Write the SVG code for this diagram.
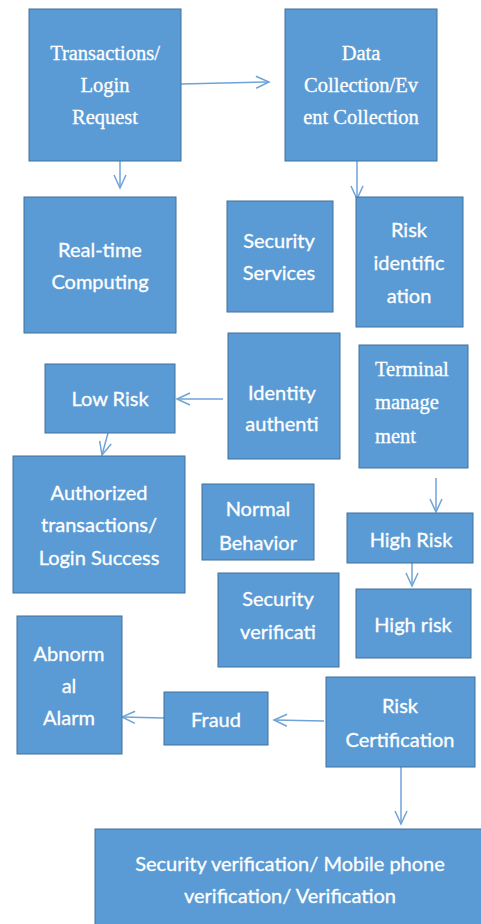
<svg xmlns="http://www.w3.org/2000/svg" width="481" height="924" viewBox="0 0 481 924">
<style>
.box{fill:#5B9BD5;stroke:#41719C;stroke-width:1}
.t{fill:#ffffff;stroke:#ffffff;stroke-width:0.3;font-family:Lato,"Open Sans","DejaVu Sans",sans-serif;font-size:20px;text-anchor:middle}
.s{fill:#ffffff;stroke:#ffffff;stroke-width:0.3;font-family:"Liberation Serif","Times New Roman",serif;font-size:20.5px;text-anchor:middle}
.c{fill:none;stroke:#6FA3D8;stroke-width:1.5}
</style>
<defs>
<marker id="arr" viewBox="0 0 14 12" refX="13" refY="6" markerWidth="14" markerHeight="12" markerUnits="userSpaceOnUse" orient="auto" overflow="visible">
<path d="M0,0 L13,6 L0,12" fill="none" stroke="#6FA3D8" stroke-width="1.5"/>
</marker>
</defs>
<rect width="481" height="924" fill="#ffffff"/>
<g id="connectors">
<path class="c" d="M181,84 L269,82" marker-end="url(#arr)"/>
<path class="c" d="M120,161 L120,188" marker-end="url(#arr)"/>
<path class="c" d="M357,161 L357,199" marker-end="url(#arr)"/>
<path class="c" d="M223,399 L177,399" marker-end="url(#arr)"/>
<path class="c" d="M108,433 L102,455" marker-end="url(#arr)"/>
<path class="c" d="M436,478 L436,512" marker-end="url(#arr)"/>
<path class="c" d="M412,563 L412,586" marker-end="url(#arr)"/>
<path class="c" d="M324,721 L274,720" marker-end="url(#arr)"/>
<path class="c" d="M164,718 L122,717" marker-end="url(#arr)"/>
<path class="c" d="M401,767 L401,824" marker-end="url(#arr)"/>
</g>
<g id="n-transactions">
<rect class="box" x="29" y="9" width="152" height="152"/>
<text class="s" x="105" y="60">Transactions/</text>
<text class="s" x="105" y="92">Login</text>
<text class="s" x="105" y="124">Request</text>
</g>
<g id="n-data">
<rect class="box" x="285" y="9" width="152" height="152"/>
<text class="s" x="361" y="60">Data</text>
<text class="s" x="361" y="92">Collection/Ev</text>
<text class="s" x="361" y="124">ent Collection</text>
</g>
<g id="n-realtime">
<rect class="box" x="24" y="197" width="152" height="136"/>
<text class="t" x="100" y="257">Real-time</text>
<text class="t" x="100" y="289">Computing</text>
</g>
<g id="n-secservices">
<rect class="box" x="227" y="201" width="106" height="111"/>
<text class="t" x="279" y="248">Security</text>
<text class="t" x="279" y="280">Services</text>
</g>
<g id="n-riskid">
<rect class="box" x="356" y="197" width="107" height="130"/>
<text class="t" x="409" y="237">Risk</text>
<text class="t" x="409" y="270">identific</text>
<text class="t" x="409" y="303">ation</text>
</g>
<g id="n-identity">
<rect class="box" x="228" y="333" width="112" height="126"/>
<text class="t" x="282" y="400">Identity</text>
<text class="t" x="282" y="431">authenti</text>
</g>
<g id="n-lowrisk">
<rect class="box" x="45" y="364" width="130" height="69"/>
<text class="t" x="110" y="406">Low Risk</text>
</g>
<g id="n-terminal">
<rect class="box" x="359" y="345" width="109" height="123"/>
<text class="s" x="375" y="376" style="text-anchor:start">Terminal</text>
<text class="s" x="375" y="409" style="text-anchor:start">manage</text>
<text class="s" x="375" y="443" style="text-anchor:start">ment</text>
</g>
<g id="n-authorized">
<rect class="box" x="13" y="456" width="172" height="137"/>
<text class="t" x="99" y="500">Authorized</text>
<text class="t" x="99" y="532">transactions/</text>
<text class="t" x="99" y="565">Login Success</text>
</g>
<g id="n-normal">
<rect class="box" x="202" y="484" width="112" height="76"/>
<text class="t" x="258" y="516">Normal</text>
<text class="t" x="258" y="550">Behavior</text>
</g>
<g id="n-highrisk1">
<rect class="box" x="347" y="513" width="126" height="50"/>
<text class="t" x="411" y="547">High Risk</text>
</g>
<g id="n-secverif">
<rect class="box" x="218" y="573" width="121" height="94"/>
<text class="t" x="278" y="606">Security</text>
<text class="t" x="278" y="639">verificati</text>
</g>
<g id="n-highrisk2">
<rect class="box" x="356" y="589" width="115" height="69"/>
<text class="t" x="413" y="632">High risk</text>
</g>
<g id="n-abnormal">
<rect class="box" x="17" y="616" width="105" height="138"/>
<text class="t" x="69" y="661">Abnorm</text>
<text class="t" x="69" y="693">al</text>
<text class="t" x="69" y="725">Alarm</text>
</g>
<g id="n-fraud">
<rect class="box" x="164" y="692" width="104" height="53"/>
<text class="t" x="216" y="727">Fraud</text>
</g>
<g id="n-riskcert">
<rect class="box" x="326" y="677" width="149" height="90"/>
<text class="t" x="400" y="713">Risk</text>
<text class="t" x="400" y="747">Certification</text>
</g>
<g id="n-bottom">
<rect class="box" x="95" y="829" width="400" height="110"/>
<text class="t" x="290" y="871">Security verification/ Mobile phone</text>
<text class="t" x="290" y="903">verification/ Verification</text>
</g>
</svg>
